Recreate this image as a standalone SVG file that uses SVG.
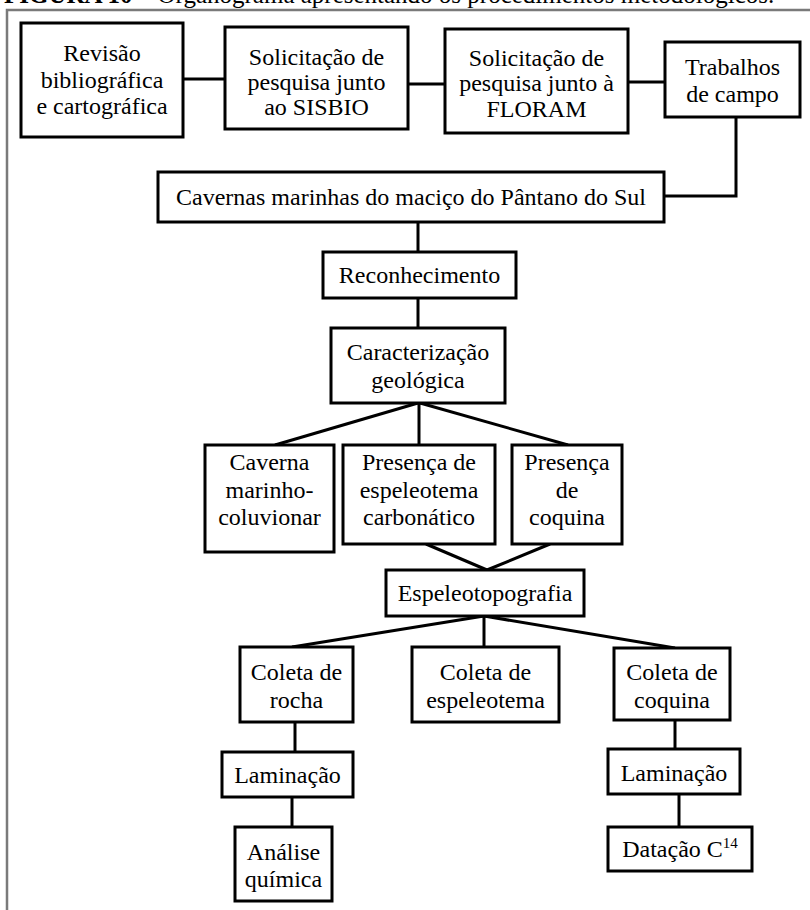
<svg xmlns="http://www.w3.org/2000/svg" width="810" height="910" viewBox="0 0 810 910">
<style>
  .box { fill: #ffffff; stroke: #000000; stroke-width: 3; }
  .lbl { font-family: "Liberation Serif", "Times New Roman", serif; font-size: 24px; fill: #000000; text-anchor: middle; }
  .conn { fill: none; stroke: #000000; stroke-width: 3; }
  .frame { fill: none; stroke: #7a7a7a; stroke-width: 2.5; }
  .cap { font-family: "Liberation Serif", "Times New Roman", serif; font-size: 25px; fill: #000000; }
</style>
<rect x="0" y="0" width="810" height="910" fill="#ffffff"/>
<text class="cap" x="4" y="3"><tspan font-weight="bold">FIGURA 10</tspan> – Organograma apresentando os procedimentos metodológicos.</text>
<path class="frame" d="M 7 912 V 10 H 812"/>

<g id="connectors">
  <line class="conn" x1="183" y1="79" x2="225" y2="79"/>
  <line class="conn" x1="408" y1="84" x2="445" y2="84"/>
  <line class="conn" x1="628" y1="82" x2="665" y2="82"/>
  <polyline class="conn" points="736,117 736,196 664,196"/>
  <line class="conn" x1="418" y1="222" x2="418" y2="252"/>
  <line class="conn" x1="418" y1="298" x2="418" y2="328"/>
  <line class="conn" x1="418" y1="403" x2="275" y2="445"/>
  <line class="conn" x1="419" y1="403" x2="419" y2="445"/>
  <line class="conn" x1="420" y1="403" x2="568" y2="445"/>
  <line class="conn" x1="426" y1="544" x2="487" y2="570"/>
  <line class="conn" x1="550" y1="544" x2="487" y2="570"/>
  <line class="conn" x1="484" y1="616" x2="292" y2="647"/>
  <line class="conn" x1="484" y1="616" x2="484" y2="647"/>
  <line class="conn" x1="484" y1="616" x2="675" y2="648"/>
  <line class="conn" x1="295" y1="722" x2="295" y2="752"/>
  <line class="conn" x1="292" y1="797" x2="292" y2="827"/>
  <line class="conn" x1="675" y1="720" x2="675" y2="749"/>
  <line class="conn" x1="679" y1="794" x2="679" y2="827"/>
</g>

<g id="revisao">
  <rect class="box" x="21" y="23" width="162" height="114"/>
  <text class="lbl" x="102" y="61">Revisão</text>
  <text class="lbl" x="102" y="88">bibliográfica</text>
  <text class="lbl" x="102" y="114">e cartográfica</text>
</g>
<g id="sisbio">
  <rect class="box" x="225" y="27" width="183" height="102"/>
  <text class="lbl" x="316.5" y="65">Solicitação de</text>
  <text class="lbl" x="316.5" y="90">pesquisa junto</text>
  <text class="lbl" x="316.5" y="115">ao SISBIO</text>
</g>
<g id="floram">
  <rect class="box" x="445" y="29" width="183" height="104"/>
  <text class="lbl" x="536.5" y="66">Solicitação de</text>
  <text class="lbl" x="536.5" y="91">pesquisa junto à</text>
  <text class="lbl" x="536.5" y="117">FLORAM</text>
</g>
<g id="campo">
  <rect class="box" x="665" y="42" width="135" height="75"/>
  <text class="lbl" x="732.5" y="75">Trabalhos</text>
  <text class="lbl" x="732.5" y="102">de campo</text>
</g>
<g id="cavernas">
  <rect class="box" x="158" y="172" width="506" height="50"/>
  <text class="lbl" x="411" y="205">Cavernas marinhas do maciço do Pântano do Sul</text>
</g>
<g id="reconhecimento">
  <rect class="box" x="323" y="252" width="193" height="46"/>
  <text class="lbl" x="419.5" y="283">Reconhecimento</text>
</g>
<g id="caracterizacao">
  <rect class="box" x="331" y="328" width="174" height="75"/>
  <text class="lbl" x="418" y="360">Caracterização</text>
  <text class="lbl" x="418" y="388">geológica</text>
</g>
<g id="caverna">
  <rect class="box" x="205" y="445" width="129" height="107"/>
  <text class="lbl" x="269.5" y="470">Caverna</text>
  <text class="lbl" x="269.5" y="498">marinho-</text>
  <text class="lbl" x="269.5" y="525">coluvionar</text>
</g>
<g id="espeleotema">
  <rect class="box" x="343" y="445" width="152" height="99"/>
  <text class="lbl" x="419" y="470">Presença de</text>
  <text class="lbl" x="419" y="498">espeleotema</text>
  <text class="lbl" x="419" y="525">carbonático</text>
</g>
<g id="coquina">
  <rect class="box" x="512" y="445" width="110" height="99"/>
  <text class="lbl" x="567" y="470">Presença</text>
  <text class="lbl" x="567" y="498">de</text>
  <text class="lbl" x="567" y="525">coquina</text>
</g>
<g id="espeleotopografia">
  <rect class="box" x="386" y="570" width="198" height="46"/>
  <text class="lbl" x="485" y="601">Espeleotopografia</text>
</g>
<g id="coleta-rocha">
  <rect class="box" x="240" y="647" width="113" height="75"/>
  <text class="lbl" x="296.5" y="680">Coleta de</text>
  <text class="lbl" x="296.5" y="708">rocha</text>
</g>
<g id="coleta-espeleotema">
  <rect class="box" x="412" y="647" width="147" height="75"/>
  <text class="lbl" x="485.5" y="680">Coleta de</text>
  <text class="lbl" x="485.5" y="708">espeleotema</text>
</g>
<g id="coleta-coquina">
  <rect class="box" x="614" y="648" width="116" height="72"/>
  <text class="lbl" x="672" y="680">Coleta de</text>
  <text class="lbl" x="672" y="708">coquina</text>
</g>
<g id="laminacao-1">
  <rect class="box" x="222" y="752" width="131" height="45"/>
  <text class="lbl" x="287.5" y="783">Laminação</text>
</g>
<g id="analise">
  <rect class="box" x="235" y="827" width="97" height="74"/>
  <text class="lbl" x="283.5" y="860">Análise</text>
  <text class="lbl" x="283.5" y="887">química</text>
</g>
<g id="laminacao-2">
  <rect class="box" x="608" y="749" width="132" height="45"/>
  <text class="lbl" x="674" y="781">Laminação</text>
</g>
<g id="datacao">
  <rect class="box" x="608" y="827" width="144" height="44"/>
  <text class="lbl" x="680" y="857">Datação C<tspan font-size="15" dy="-9">14</tspan></text>
</g>
</svg>
